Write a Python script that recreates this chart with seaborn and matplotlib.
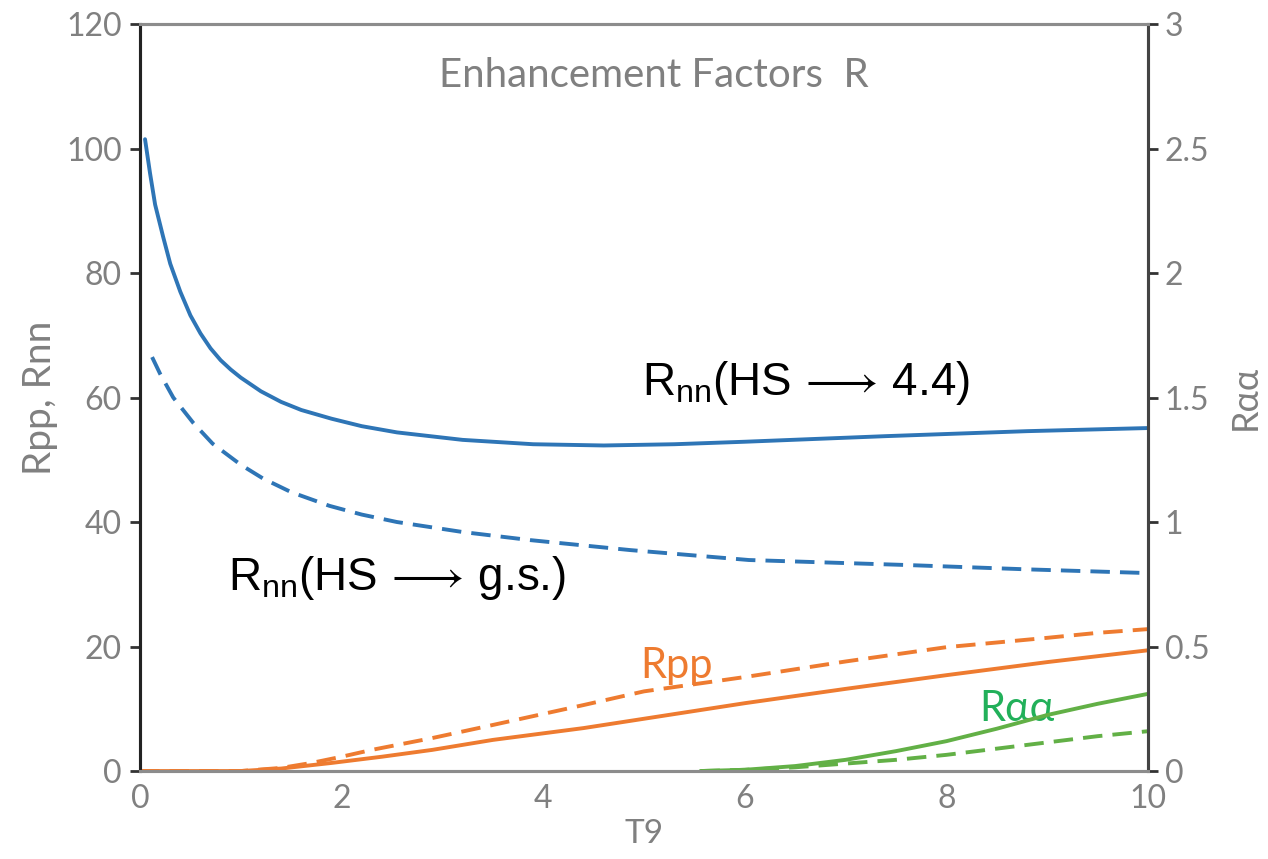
import matplotlib
matplotlib.use("Agg")
import matplotlib.pyplot as plt
import seaborn as sns
import pandas as pd

# ---- data ----
rnn44_x = [0.05, 0.10, 0.15, 0.23, 0.30, 0.40, 0.50, 0.60, 0.70, 0.80, 0.90, 1.0, 1.2, 1.4, 1.6, 1.9, 2.2, 2.55, 3.2, 3.9, 4.6, 5.3, 6.0, 7.4, 8.8, 10.0]
rnn44_y = [101.5, 96.0, 91.0, 85.8, 81.5, 77.0, 73.2, 70.3, 67.9, 66.0, 64.5, 63.2, 61.0, 59.3, 58.0, 56.6, 55.4, 54.4, 53.2, 52.5, 52.3, 52.5, 52.9, 53.8, 54.6, 55.1]

rnngs_x = [0.12, 0.20, 0.33, 0.53, 0.72, 1.0, 1.22, 1.5, 1.88, 2.2, 2.55, 3.2, 3.87, 4.86, 6.04, 7.6, 8.8, 10.0]
rnngs_y = [66.5, 63.8, 60.0, 55.9, 52.6, 49.2, 47.0, 44.8, 42.6, 41.2, 40.0, 38.4, 37.1, 35.5, 33.9, 33.1, 32.4, 31.8]

rpp_sol_x = [0.0, 1.0, 1.4, 1.9, 2.4, 2.9, 3.5, 4.4, 5.0, 6.0, 7.0, 8.0, 9.0, 10.0]
rpp_sol_y = [0.0, 0.0, 0.4, 1.3, 2.3, 3.4, 5.0, 6.9, 8.4, 10.9, 13.2, 15.4, 17.5, 19.4]

rpp_das_x = [0.0, 1.0, 1.4, 1.7, 2.0, 2.3, 2.9, 3.5, 4.4, 5.0, 6.0, 7.0, 8.0, 9.0, 9.5, 10.0]
rpp_das_y = [0.0, 0.0, 0.5, 1.3, 2.3, 3.4, 5.3, 7.4, 10.6, 12.8, 15.1, 17.6, 19.9, 21.4, 22.2, 22.8]

raa_sol_x = [5.56, 6.0, 6.5, 7.0, 7.5, 8.0, 8.5, 9.0, 9.5, 10.0]
raa_sol_y = [0.0, 0.005, 0.02, 0.045, 0.08, 0.12, 0.17, 0.225, 0.27, 0.31]

raa_das_x = [5.56, 6.0, 6.5, 7.0, 7.5, 8.0, 8.5, 9.0, 9.5, 10.0]
raa_das_y = [0.0, 0.005, 0.015, 0.03, 0.045, 0.065, 0.09, 0.115, 0.14, 0.16]

left_ticks = [0, 20, 40, 60, 80, 100, 120]
right_ticks = [0, 0.5, 1, 1.5, 2, 2.5, 3]
right_labels = ["0", "0.5", "1", "1.5", "2", "2.5", "3"]
x_ticks = [0, 2, 4, 6, 8, 10]

# ---- style ----
sns.set_style("white")
plt.rcParams['font.family'] = ['Lato', 'DejaVu Sans']
plt.rcParams['mathtext.fontset'] = 'custom'
plt.rcParams['mathtext.rm'] = 'Liberation Sans'
plt.rcParams['mathtext.it'] = 'Liberation Sans'
plt.rcParams['mathtext.fallback'] = 'stixsans'

BLUE = '#2E75B6'
ORANGE = '#EE7B30'
GREEN_LINE = '#62B046'
GREEN_TXT = '#22B05A'
GRAY = '#808080'
LW = 2.8
DASH = (5.0, 2.6)

fig = plt.figure(figsize=(12.68, 8.59), dpi=100)
ax = fig.add_axes([0.1104, 0.1024, 0.7950, 0.8696])
ax2 = ax.twinx()

def draw(a, xs, ys, color, dashed=False):
    df = pd.DataFrame({'x': xs, 'y': ys})
    sns.lineplot(data=df, x='x', y='y', ax=a, color=color, lw=LW,
                 sort=False, estimator=None)
    if dashed:
        a.lines[-1].set_dashes(DASH)

draw(ax, rnn44_x, rnn44_y, BLUE)
draw(ax, rnngs_x, rnngs_y, BLUE, dashed=True)
draw(ax, rpp_das_x, rpp_das_y, ORANGE, dashed=True)
draw(ax, rpp_sol_x, rpp_sol_y, ORANGE)
draw(ax2, raa_sol_x, raa_sol_y, GREEN_LINE)
draw(ax2, raa_das_x, raa_das_y, GREEN_LINE, dashed=True)

ax.set_xlim(0, 10)
ax.set_ylim(0, 120)
ax2.set_ylim(0, 3)
ax.set_xticks(x_ticks)
ax.set_xticklabels([str(t) for t in x_ticks])
ax.set_yticks(left_ticks)
ax.set_yticklabels([str(t) for t in left_ticks])
ax2.set_yticks(right_ticks)
ax2.set_yticklabels(right_labels)

for a in (ax, ax2):
    a.tick_params(axis='both', labelsize=23, labelcolor=GRAY, colors='#333333',
                  direction='out', length=7, width=2)
ax.tick_params(axis='x', length=0, pad=9)
ax.tick_params(axis='y', pad=6)
ax2.tick_params(axis='y', pad=5)

for a in (ax, ax2):
    a.spines['top'].set_color('#8c8c8c')
    a.spines['bottom'].set_color('#8c8c8c')
    a.spines['left'].set_color('#222222')
    a.spines['right'].set_color('#444444')
    for s in a.spines.values():
        s.set_linewidth(2.2)
        s.set_visible(True)

ax.set_xlabel('T9', fontsize=24, color=GRAY, labelpad=4)
ax.set_ylabel('Rpp, Rnn', fontsize=28, color=GRAY, labelpad=6)
ax2.set_ylabel('Rαα', fontsize=26, color=GRAY, rotation=90, labelpad=14)

ax.text(5.1, 111.8, 'Enhancement Factors  R', fontsize=29, color=GRAY,
        ha='center', va='center')

ax.text(4.98, 62.3, r'R$_{\mathrm{nn}}$(HS$\,\longrightarrow\,$4.4)', fontsize=33, color='black',
        ha='left', va='center', family=['Liberation Sans', 'DejaVu Sans'])
ax.text(0.87, 31.0, r'R$_{\mathrm{nn}}$(HS$\,\longrightarrow\,$g.s.)', fontsize=33, color='black',
        ha='left', va='center', family=['Liberation Sans', 'DejaVu Sans'])
ax.text(4.96, 16.8, 'Rpp', fontsize=30, color=ORANGE, ha='left', va='center')
ax.text(8.33, 10.0, 'Rαα', fontsize=30, color=GREEN_TXT, ha='left', va='center')

fig.savefig('out.png', dpi=100)
